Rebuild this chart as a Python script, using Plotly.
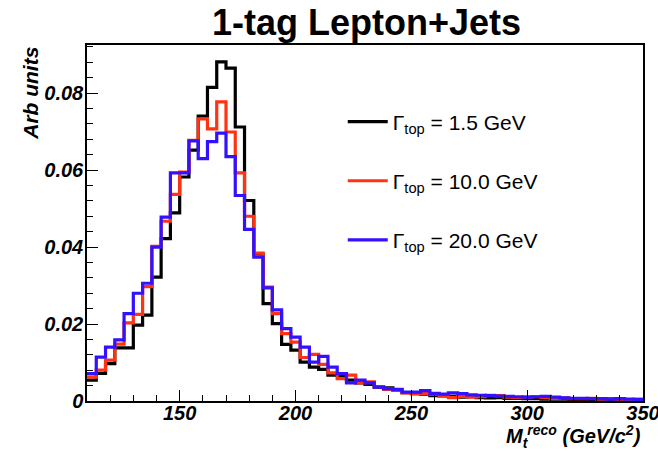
import numpy as np
import plotly.graph_objects as go

# bin edges: 110 -> 350 GeV, 4 GeV bins
bin_edges = list(range(110, 351, 4))

w_1p5 = [0.0054, 0.0072, 0.0097, 0.0138, 0.0138, 0.0197, 0.0223, 0.0322, 0.0422, 0.0489,
         0.0582, 0.0652, 0.0740, 0.0815, 0.0881, 0.0865, 0.0712, 0.0521, 0.0382, 0.0253,
         0.0201, 0.0147, 0.0132, 0.0101, 0.0088, 0.0082, 0.0067, 0.0066, 0.0054, 0.0047,
         0.0043, 0.0036, 0.0034, 0.0028, 0.0022, 0.0019, 0.0018, 0.0014, 0.0013, 0.0012,
         0.0010, 0.0011, 0.0009, 0.0008, 0.0009, 0.0007, 0.0007, 0.0006, 0.0006, 0.0005,
         0.0005, 0.0005, 0.0004, 0.0004, 0.0004, 0.0003, 0.0003, 0.0003, 0.0002, 0.0002]

w_10 = [0.0062, 0.0080, 0.0106, 0.0148, 0.0203, 0.0225, 0.0297, 0.0402, 0.0467, 0.0537,
        0.0595, 0.0677, 0.0733, 0.0707, 0.0777, 0.0699, 0.0593, 0.0480, 0.0384, 0.0296,
        0.0227, 0.0175, 0.0153, 0.0113, 0.0121, 0.0095, 0.0073, 0.0058, 0.0067, 0.0047,
        0.0050, 0.0037, 0.0030, 0.0028, 0.0021, 0.0019, 0.0020, 0.0018, 0.0013, 0.0009,
        0.0012, 0.0010, 0.0011, 0.0015, 0.0014, 0.0010, 0.0009, 0.0010, 0.0011, 0.0009,
        0.0007, 0.0008, 0.0006, 0.0006, 0.0007, 0.0005, 0.0006, 0.0005, 0.0003, 0.0004]

w_20 = [0.0071, 0.0114, 0.0140, 0.0159, 0.0227, 0.0280, 0.0306, 0.0400, 0.0478, 0.0593,
        0.0593, 0.0676, 0.0630, 0.0674, 0.0696, 0.0635, 0.0534, 0.0446, 0.0374, 0.0294,
        0.0237, 0.0188, 0.0166, 0.0140, 0.0101, 0.0116, 0.0088, 0.0071, 0.0047, 0.0054,
        0.0047, 0.0036, 0.0032, 0.0030, 0.0023, 0.0023, 0.0027, 0.0020, 0.0018, 0.0021,
        0.0019, 0.0016, 0.0015, 0.0014, 0.0013, 0.0012, 0.0011, 0.0010, 0.0011, 0.0012,
        0.0010, 0.0008, 0.0007, 0.0007, 0.0006, 0.0006, 0.0005, 0.0006, 0.0005, 0.0004]

series = [
    ("Γ<sub>top</sub> = 1.5 GeV", w_1p5, "#000000", "legend"),
    ("Γ<sub>top</sub> = 10.0 GeV", w_10, "#ff3311", "legend2"),
    ("Γ<sub>top</sub> = 20.0 GeV", w_20, "#3311ff", "legend3"),
]

FONT = "Liberation Sans"
fig = go.Figure()
for name, vals, col, lg in series:
    xs = bin_edges
    ys = list(vals) + [vals[-1]]
    fig.add_trace(go.Scatter(x=xs, y=ys, mode="lines", line=dict(color=col, width=3.2, shape="hv"),
                             name=name, legend=lg))

leg_common = dict(font=dict(family=FONT, size=21, color="black"), bgcolor="rgba(0,0,0,0)",
                  xanchor="left", yanchor="middle", itemwidth=40, tracegroupgap=0)
fig.update_layout(
    width=658, height=451,
    margin=dict(l=87, r=15, t=45, b=50, autoexpand=False),
    paper_bgcolor="white", plot_bgcolor="white",
    title=dict(text="<b>1-tag Lepton+Jets</b>", x=0.557, xanchor="center", y=0.95, yanchor="middle",
               font=dict(family=FONT, size=36, color="black")),
    legend=dict(x=0.46, y=0.7835, **leg_common),
    legend2=dict(x=0.46, y=0.6177, **leg_common),
    legend3=dict(x=0.46, y=0.4518, **leg_common),
    showlegend=True,
)
tickf = dict(family=FONT, size=20, color="black", weight="bold", style="italic")
fig.update_xaxes(range=[110, 350], showline=True, linecolor="black", linewidth=1.5, mirror=True,
                 ticks="inside", ticklen=11, tickwidth=1, tickcolor="black", dtick=50, tick0=0,
                 minor=dict(ticks="inside", ticklen=6, dtick=10, tick0=0, tickcolor="black"),
                 showgrid=False, zeroline=False, tickfont=tickf, automargin=False,
                 ticklabeloverflow="allow", ticklabelstandoff=-7)
fig.update_yaxes(range=[0, 0.0925], showline=True, linecolor="black", linewidth=1.5, mirror=True,
                 ticks="inside", ticklen=11, tickwidth=1, tickcolor="black", dtick=0.02, tick0=0,
                 minor=dict(ticks="inside", ticklen=6, dtick=0.004, tick0=0, tickcolor="black"),
                 showgrid=False, zeroline=False, tickfont=tickf, automargin=False,
                 ticklabeloverflow="allow", ticklabelstandoff=-2)

fig.add_annotation(text="<b><i>Arb units</i></b>", xref="paper", yref="paper", x=-0.102, y=1.0,
                   xanchor="center", yanchor="top", textangle=-90, showarrow=False,
                   font=dict(family=FONT, size=21, color="black"))
fig.add_annotation(text="<b><i>M<sub>t</sub><sup>reco</sup> (GeV/c<sup>2</sup>)</i></b>", xref="paper", yref="paper",
                   x=1.0, y=-0.1, xanchor="right", yanchor="middle", showarrow=False,
                   font=dict(family=FONT, size=20, color="black"))

fig.write_html("out.html", config={"displayModeBar": False},
               post_script="document.body.style.margin='0';document.body.style.overflow='hidden';")
